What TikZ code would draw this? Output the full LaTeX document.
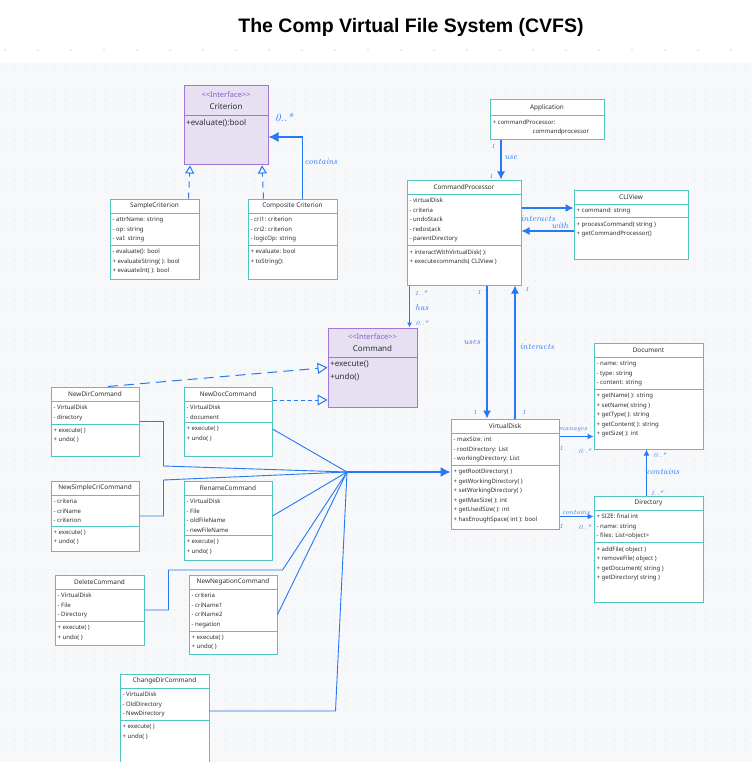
\documentclass[tikz,border=0pt]{standalone}
\usepackage{fontspec}
\setmainfont{Noto Sans}
\newfontfamily\titlefont{Liberation Sans}
\newfontfamily\handfont{Latin Modern Roman}
\usetikzlibrary{arrows.meta,positioning,fit,calc}

\definecolor{linkblue}{RGB}{38,120,245}
\definecolor{classline}{RGB}{80,196,190}
\definecolor{ifaceline}{RGB}{160,118,214}
\definecolor{ifacefill}{RGB}{231,224,243}
\definecolor{ifacetext}{RGB}{140,90,200}
\definecolor{canvas}{RGB}{247,248,250}
\definecolor{griddot}{RGB}{214,218,226}
\definecolor{topdot}{RGB}{160,178,205}
\definecolor{textgrey}{RGB}{45,45,50}

\tikzset{
  classbox/.style={draw=classline, line width=1pt, fill=white, inner sep=0pt},
  classtitle/.style={inner sep=0pt, minimum height=14.5pt, text=textgrey, font=\fontsize{6.4}{7}\selectfont},
  members/.style={align=left, inner xsep=3pt, inner ysep=3.5pt, text=textgrey, font=\fontsize{6}{9.5}\selectfont},
  classrule/.style={draw=classline, line width=0.9pt},
  ifacebox/.style={draw=ifaceline, line width=1pt, fill=ifacefill, inner sep=0pt},
  ifacetitle/.style={align=center, inner sep=0pt, minimum height=30pt, text=textgrey, font=\fontsize{8}{12.5}\selectfont},
  ifacemembers/.style={align=left, inner xsep=2.5pt, inner ysep=3pt, text=textgrey, font=\fontsize{8}{13}\selectfont},
  ifacerule/.style={draw=ifaceline, line width=0.9pt},
  assoc/.style={draw=linkblue, line width=1.3pt, -{Latex[length=8pt,width=8pt]}},
  fanline/.style={draw=linkblue, line width=0.9pt},
  realize/.style={draw=linkblue, line width=1pt, dash pattern=on 6pt off 5pt, -{Triangle[open,length=8pt,width=9pt,fill=canvas]}},
  hand/.style={text=linkblue, inner sep=0pt, font=\handfont\itshape\fontsize{8.5}{9}\selectfont},
  handsmall/.style={hand, font=\handfont\itshape\fontsize{6.5}{7}\selectfont}
}

% class box: name, x1, y1, x2, y2, title, attributes, methods
\newcommand{\umlclass}[8]{%
  \node[classbox, fit={(#2,#3) (#4,#5)}] (#1) {};
  \node[classtitle, anchor=north] (#1-t) at (#1.north) {#6};
  \draw[classrule] (#1-t.south -| #1.west) -- (#1-t.south -| #1.east);
  \node[members, anchor=north west] (#1-a) at (#1-t.south -| #1.west) {#7};
  \draw[classrule] (#1-a.south -| #1.west) -- (#1-a.south -| #1.east);
  \node[members, anchor=north west] (#1-m) at (#1-a.south -| #1.west) {#8};
}
% interface box: name, x1, y1, x2, y2, title, methods
\newcommand{\umliface}[7]{%
  \node[ifacebox, fit={(#2,#3) (#4,#5)}] (#1) {};
  \node[ifacetitle, anchor=north] (#1-t) at (#1.north) {{\color{ifacetext}\fontsize{7.5}{12.5}\selectfont <{}<Interface>{}>}\\#6};
  \draw[ifacerule] (#1-t.south -| #1.west) -- (#1-t.south -| #1.east);
  \node[ifacemembers, anchor=north west] (#1-m) at (#1-t.south -| #1.west) {#7};
}

\begin{document}
\begin{tikzpicture}[x=1pt,y=-1pt]
\useasboundingbox (0,0) rectangle (752,762);
\fill[white] (0,0) rectangle (752,762);
\fill[canvas] (0,63) rectangle (752,762);
\foreach \gx in {5,15,...,745} \foreach \gy in {70,80,...,760} \fill[griddot] (\gx,\gy) circle (0.6pt);
\foreach \gx in {5,38,...,752} \fill[topdot] (\gx,50) circle (0.7pt);

\node[font=\titlefont\bfseries\fontsize{19.5}{19.5}\selectfont] (title) at (411,27) {The Comp Virtual File System (CVFS)};

% criteria
\umliface{crit}{184}{86}{268}{165}{Criterion}{+evaluate():bool}
\umlclass{smplcrit}{110}{199}{199}{279}{SampleCriterion}{- attrName: string\\- op: string\\- val: string}{-  evaluate(): bool\\+ evaluateString(  ): bool\\+ evauateInt( ): bool}
\umlclass{compcrit}{248}{199}{337}{279}{Composite Criterion}{- cri1: criterion\\- cri2: criterion\\- logicOp: string}{+ evaluate: bool\\+ toString():}

% application, processor, view
\node[classbox, fit={(490,100) (604,140)}] (app) {};
\node[classtitle, anchor=north, minimum height=16pt] (app-t) at (app.north) {Application};
\draw[classrule] (app-t.south -| app.west) -- (app-t.south -| app.east);
\node[members, anchor=north west] (app-a) at (app-t.south -| app.west) {+ commandProcessor:\\\hspace*{40pt}commandprocessor};
\umlclass{cp}{407}{180}{521}{285}{CommandProcessor}{- virtualDisk\\- criteria\\- undoStack\\- redostack\\- parentDirectory}{+ interactWithVirtualDisk( ):\\+ executecommands( CLIView )}
\umlclass{cli}{574}{190}{688}{259}{CLIView}{+ command: string}{+ processCommand( string )\\+ getCommandProcessor()}

% commands
\umliface{cmd}{328}{328}{417}{407}{Command}{+execute()\\+undo()}
\umlclass{newdir}{51}{387}{139}{456}{NewDirCommand}{-  VirtualDisk\\- directory}{+ execute(  )\\+ undo( )}
\umlclass{newdoc}{184}{387}{272}{456}{NewDocCommand}{-  VirtualDisk\\- document}{+ execute(  )\\+ undo( )}
\umlclass{newsimp}{51}{481}{139}{551}{NewSimpleCriCommand}{-  criteria\\- criName\\- criterion}{+ execute(  )\\+ undo( )}
\umlclass{rename}{184}{481}{272}{560}{RenameCommand}{-  VirtualDisk\\- File\\- oldFileName\\- newFileName}{+ execute(  )\\+ undo( )}
\umlclass{delete}{55}{575}{144}{645}{DeleteCommand}{-  VirtualDisk\\- File\\- Directory}{+ execute(  )\\+ undo( )}
\umlclass{neg}{189}{575}{277}{654}{NewNegationCommand}{- criteria\\- criName1\\- criName2\\- negation}{+ execute(  )\\+ undo( )}
\umlclass{chgdir}{120}{674}{209}{764}{ChangeDirCommand}{- VirtualDisk\\- OldDirectory\\- NewDirectory}{+ execute(  )\\+ undo( )}

% storage
\umlclass{doc}{594}{343}{703}{449}{Document}{- name: string\\- type: string\\- content: string}{+ getName(  ): string\\+ setName( string )\\+ getType( ): string\\+ getContent( ): string\\+ getSize( ): int}
\umlclass{vd}{451}{419}{559}{529}{VirtualDisk}{-  maxSize: int\\- rootDirectory: List\\- workingDirectory: List}{+ getRootDirectory( )\\+ getWorkingDirectory( )\\+ setWorkingDirectory( )\\+ getMaxSize( ): int\\+ getUsedSize( ): int\\+ hasEnoughSpace( int ): bool}
\umlclass{dir}{594}{496}{703}{602}{Directory}{+ SIZE: final int\\- name: string\\- files: List<object>}{+ addFile( object )\\+ removeFile( object )\\+ getDocument( string )\\+ getDirectory( string )}

% connectors
\coordinate (critIn) at ([yshift=-11.5]crit.east);
\coordinate (appUse) at ([xshift=-46]app.south);
\coordinate (cliIn) at ([yshift=16.5]cli.west);
\coordinate (cliOut) at ([yshift=-6.5]cli.west);
\coordinate (cpHas) at ([xshift=3]cp.south west);
\coordinate (cpUse) at ([xshift=23]cp.south);
\coordinate (cpInt) at ([xshift=51]cp.south);
\coordinate (vdMan) at ([yshift=-18]vd.north east);
\coordinate (vdCon) at ([yshift=-98]vd.north east);
\coordinate (docReal) at ([yshift=21.5]newdoc.east);
\coordinate (hub) at (347,472);

\draw[realize] ([xshift=34]smplcrit.north) -- ([xshift=-36]crit.south);
\draw[realize] ([xshift=-29]compcrit.north) -- ([xshift=36]crit.south);
\draw[assoc, -{Latex[length=10pt,width=10pt]}] ([xshift=10]compcrit.north) |- (critIn);
\draw[assoc] (appUse) -- (appUse |- cp.north);
\draw[assoc] (cliIn -| cp.east) -- (cliIn);
\draw[assoc] (cliOut) -- (cliOut -| cp.east);
\draw[assoc, line width=1pt, -{Latex[length=5pt,width=5pt]}] (cpHas) -- (cpHas |- cmd.north);
\draw[assoc] (cpUse) -- (cpUse |- vd.north);
\draw[assoc] (cpInt |- vd.north) -- (cpInt);
\draw[assoc, -{Latex[length=6pt,width=6pt]}] (vdMan) -- (vdMan -| doc.west);
\draw[assoc, -{Latex[length=6pt,width=6pt]}] (vdCon) -- (vdCon -| dir.west);
\draw[assoc, -{Latex[length=6pt,width=6pt]}] ([xshift=-2]dir.north) -- ([xshift=-2]doc.south);
\draw[realize, dash pattern=on 10pt off 6pt, -{Triangle[open,length=10pt,width=11pt,fill=canvas]}] ([xshift=13]newdir.north) -- (cmd.west);
\draw[realize, dash pattern=on 4pt off 3pt, -{Triangle[open,length=10pt,width=11pt,fill=canvas]}] (docReal) -- (docReal -| cmd.west);

\draw[fanline] (newdir.east) -- ++(24,0) -- ++(0,44.5) -- (hub);
\draw[fanline] ([yshift=-7.5]newdoc.east) -- (hub);
\draw[fanline] (newsimp.east) -- ++(24,0) -- ++(0,-36) -- (hub);
\draw[fanline] ([yshift=4.5]rename.east) -- (hub);
\draw[fanline] (delete.east) -- ++(24,0) -- ++(0,-40) -- ++(114,0) -- (hub);
\draw[fanline] (neg.east) -- (hub);
\draw[fanline] ([yshift=8]chgdir.east) -- ++(126,0) -- (hub);
\draw[assoc, -{Latex[length=10pt,width=10pt]}] (hub) -- (hub -| vd.west);

% labels
\foreach \t/\x/\y [count=\i] in {contains/321/162, use/511/158, interacts/538/219, with/560/226, has/422/308, uses/472/343, interacts/537/347, contains/663/472}
  \node[hand] (lab\i) at (\x,\y) {\t};
\foreach \t/\x/\y [count=\i] in {1/493/146, 1/491/176, 1..*/421/293, 0..*/422/323, 1/479/292, 1/527/289, 1/475/412, 1/524/412, manages/573/430, 1/561/448, 0..*/585/451, 0..*/660/455, 1..*/657/493, contains/576/512, 1/561/526, 0..*/585/527}
  \node[handsmall] (mul\i) at (\x,\y) {\t};
\node[hand, font=\handfont\itshape\fontsize{11}{11}\selectfont] (critMul) at (284,117) {0..*};
\end{tikzpicture}
\end{document}
